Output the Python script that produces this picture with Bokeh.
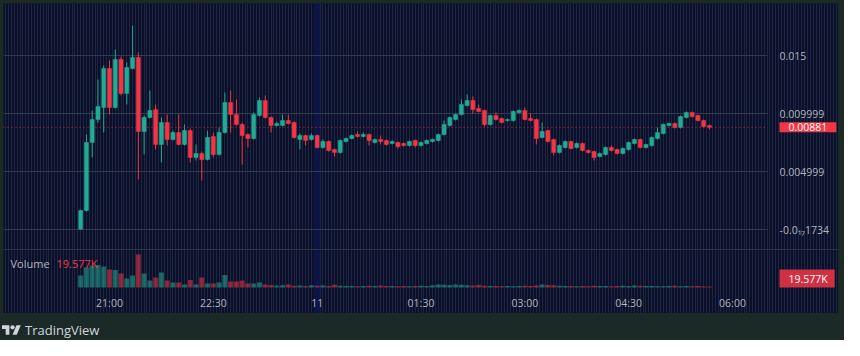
import pandas as pd
from bokeh.plotting import figure
from bokeh.models import (ColumnDataSource, Range1d, FixedTicker, SingleIntervalTicker,
                          Span, BoxAnnotation, Label, Div, Spacer, CustomJSTickFormatter)
from bokeh.layouts import row, column
from bokeh.embed import file_html
from bokeh.resources import INLINE

# ---------------- data (5-minute candles) ----------------
times = pd.date_range("2024-01-10 20:35", periods=110, freq="5min")
ref_time = pd.Timestamp("2024-01-10 21:00")

opens = [0.00003, 0.00164, 0.00750, 0.00948, 0.01052, 0.01388, 0.01052, 0.01465, 0.01172, 0.01388,
         0.01483, 0.00845, 0.00965, 0.01034, 0.00733, 0.00922, 0.00776, 0.00836, 0.00733, 0.00853,
         0.00621, 0.00655, 0.00603, 0.00802, 0.00647, 0.00836, 0.01095, 0.00991, 0.00905, 0.00819,
         0.00784, 0.00983, 0.01112, 0.00965, 0.00896, 0.00896, 0.00940, 0.00922, 0.00776, 0.00810,
         0.00776, 0.00810, 0.00707, 0.00759, 0.00690, 0.00664, 0.00759, 0.00784, 0.00819, 0.00802,
         0.00819, 0.00750, 0.00776, 0.00767, 0.00741, 0.00750, 0.00741, 0.00724, 0.00767, 0.00724,
         0.00741, 0.00759, 0.00767, 0.00819, 0.00896, 0.00948, 0.00991, 0.01069, 0.01112, 0.01043,
         0.01026, 0.00905, 0.00983, 0.00957, 0.00940, 0.00940, 0.01009, 0.01026, 0.00957, 0.00948,
         0.00793, 0.00853, 0.00776, 0.00664, 0.00707, 0.00759, 0.00707, 0.00741, 0.00681, 0.00672,
         0.00629, 0.00647, 0.00707, 0.00690, 0.00655, 0.00690, 0.00741, 0.00776, 0.00707, 0.00724,
         0.00784, 0.00828, 0.00896, 0.00914, 0.00879, 0.00965, 0.01009, 0.00983, 0.00940, 0.00896]

highs = [0.00172, 0.00819, 0.01026, 0.01293, 0.01414, 0.01457, 0.01552, 0.01491, 0.01440, 0.01758,
         0.01526, 0.00983, 0.01198, 0.01078, 0.00965, 0.00991, 0.00853, 0.00991, 0.00905, 0.00871,
         0.00733, 0.00672, 0.00853, 0.00836, 0.00879, 0.01181, 0.01198, 0.01121, 0.00922, 0.00828,
         0.01009, 0.01138, 0.01155, 0.00974, 0.00931, 0.00991, 0.00991, 0.00931, 0.00828, 0.00819,
         0.00828, 0.00819, 0.00776, 0.00767, 0.00698, 0.00776, 0.00793, 0.00819, 0.00845, 0.00836,
         0.00828, 0.00784, 0.00810, 0.00776, 0.00767, 0.00759, 0.00750, 0.00767, 0.00776, 0.00759,
         0.00776, 0.00784, 0.00828, 0.00940, 0.00974, 0.01000, 0.01121, 0.01164, 0.01147, 0.01078,
         0.01034, 0.00991, 0.01009, 0.00965, 0.00957, 0.01026, 0.01034, 0.01052, 0.01000, 0.00957,
         0.00922, 0.00862, 0.00784, 0.00733, 0.00767, 0.00767, 0.00750, 0.00750, 0.00690, 0.00681,
         0.00664, 0.00715, 0.00724, 0.00698, 0.00707, 0.00759, 0.00784, 0.00784, 0.00741, 0.00802,
         0.00879, 0.00914, 0.00922, 0.00922, 0.00983, 0.01017, 0.01017, 0.00991, 0.00948, 0.00905]

lows = [0.00000, 0.00155, 0.00621, 0.00922, 0.00836, 0.00991, 0.01043, 0.01155, 0.01078, 0.01379,
        0.00431, 0.00647, 0.00957, 0.00690, 0.00578, 0.00724, 0.00767, 0.00724, 0.00724, 0.00578,
        0.00595, 0.00422, 0.00595, 0.00621, 0.00638, 0.00828, 0.00836, 0.00896, 0.00560, 0.00707,
        0.00776, 0.00974, 0.00957, 0.00836, 0.00888, 0.00888, 0.00905, 0.00784, 0.00690, 0.00724,
        0.00767, 0.00698, 0.00698, 0.00672, 0.00629, 0.00655, 0.00750, 0.00776, 0.00793, 0.00793,
        0.00724, 0.00741, 0.00733, 0.00724, 0.00733, 0.00698, 0.00715, 0.00715, 0.00707, 0.00715,
        0.00733, 0.00750, 0.00759, 0.00810, 0.00888, 0.00940, 0.00983, 0.01060, 0.01000, 0.01009,
        0.00888, 0.00896, 0.00940, 0.00914, 0.00931, 0.00931, 0.01000, 0.00940, 0.00931, 0.00733,
        0.00784, 0.00750, 0.00638, 0.00655, 0.00698, 0.00690, 0.00698, 0.00672, 0.00655, 0.00595,
        0.00621, 0.00638, 0.00672, 0.00647, 0.00647, 0.00681, 0.00733, 0.00698, 0.00698, 0.00715,
        0.00776, 0.00819, 0.00888, 0.00871, 0.00871, 0.00957, 0.00965, 0.00931, 0.00879, 0.00862]

closes = [0.00164, 0.00750, 0.00948, 0.01060, 0.01388, 0.01052, 0.01465, 0.01172, 0.01396, 0.01483,
          0.00845, 0.00965, 0.01026, 0.00733, 0.00922, 0.00776, 0.00836, 0.00733, 0.00853, 0.00621,
          0.00655, 0.00603, 0.00793, 0.00647, 0.00836, 0.01095, 0.00991, 0.00905, 0.00810, 0.00784,
          0.00991, 0.01112, 0.00965, 0.00896, 0.00914, 0.00940, 0.00914, 0.00793, 0.00810, 0.00767,
          0.00810, 0.00707, 0.00759, 0.00681, 0.00664, 0.00767, 0.00784, 0.00810, 0.00802, 0.00819,
          0.00767, 0.00776, 0.00759, 0.00733, 0.00759, 0.00715, 0.00724, 0.00759, 0.00724, 0.00750,
          0.00767, 0.00776, 0.00819, 0.00905, 0.00965, 0.00991, 0.01078, 0.01112, 0.01034, 0.01017,
          0.00905, 0.00983, 0.00948, 0.00922, 0.00948, 0.01017, 0.01026, 0.00948, 0.00940, 0.00784,
          0.00845, 0.00759, 0.00664, 0.00724, 0.00759, 0.00698, 0.00741, 0.00681, 0.00664, 0.00621,
          0.00655, 0.00707, 0.00681, 0.00655, 0.00698, 0.00750, 0.00776, 0.00707, 0.00733, 0.00793,
          0.00836, 0.00905, 0.00914, 0.00879, 0.00974, 0.01009, 0.00974, 0.00940, 0.00888, 0.00881]

volumes_k = [240, 400, 440, 450, 420, 360, 350, 280, 180, 240,
             660, 280, 140, 200, 300, 140, 100, 100, 60, 150,
             60, 200, 80, 80, 100, 250, 120, 120, 140, 80,
             80, 100, 60, 50, 40, 45, 60, 35, 40, 30,
             45, 35, 40, 30, 55, 35, 30, 30, 25, 30,
             35, 30, 40, 30, 30, 25, 30, 25, 30, 35,
             30, 45, 60, 55, 50, 60, 55, 45, 40, 50,
             35, 30, 30, 25, 30, 25, 30, 35, 30, 40,
             60, 50, 45, 35, 30, 30, 25, 30, 25, 35,
             30, 30, 25, 30, 35, 30, 40, 35, 30, 30,
             25, 25, 30, 35, 25, 30, 25, 30, 22, 19.577]

time_ticks_min = [0, 90, 180, 270, 360, 450, 540]
time_tick_labels = ["21:00", "22:30", "11", "01:30", "03:00", "04:30", "06:00"]
price_ticks = [0.0, 0.005, 0.01, 0.015]
price_tick_labels = ["-0.0\u2081\u20871734", "0.004999", "0.009999", "0.015"]

# ---------------- styling ----------------
OUTER = "#1b2a26"
NAVY = "#0b0f29"
STRIPE = "#1d2641"
HGRID = "#323a4d"
UP = "#22ab94"
DOWN = "#f23645"
TXT = "#b2b5be"
FONT = "Open Sans"

# layout geometry (reference pixels; panel spans x 11..846, y 11..321)
PANEL_L, PANEL_T = 11, 11
FRAME_W, FRAME_H = 835, 310
PX_PER_MIN = 623 / 540          # 21:00 at x=117, 06:00 at x=740
X_START = (PANEL_L - 117) / PX_PER_MIN
PX_PER_PRICE = 11600            # 0 at y=237, 0.015 at y=63
Y_START = (237 - (PANEL_T + FRAME_H)) / PX_PER_PRICE
K_PER_PX = 20                   # volume baseline at y=295
V_START = (295 - (PANEL_T + FRAME_H)) * K_PER_PX

x_range = Range1d(X_START, X_START + FRAME_W / PX_PER_MIN)
y_range = Range1d(Y_START, Y_START + FRAME_H / PX_PER_PRICE)
vol_range = Range1d(V_START, V_START + FRAME_H * K_PER_PX)


def xd(px):
    return X_START + (px - PANEL_L) / PX_PER_MIN


def yvol(py):
    return V_START + (PANEL_T + FRAME_H - py) * K_PER_PX


def yprice(py):
    return Y_START + (PANEL_T + FRAME_H - py) / PX_PER_PRICE


PRICE_AXIS_X = xd(775)
TIME_AXIS_Y = yprice(297)

minutes = [(t - ref_time).total_seconds() / 60 for t in times]
colors = [UP if c >= o else DOWN for o, c in zip(opens, closes)]
src = ColumnDataSource(dict(
    x=minutes, open=opens, high=highs, low=lows, close=closes,
    top=[max(o, c) for o, c in zip(opens, closes)],
    bottom=[min(o, c) for o, c in zip(opens, closes)],
    vol=volumes_k, color=colors))

p = figure(width=FRAME_W, height=FRAME_H, x_range=x_range, y_range=y_range,
           output_backend="svg", toolbar_location=None,
           background_fill_color=NAVY, border_fill_color=NAVY,
           outline_line_color=None, y_axis_location="right",
           min_border_left=0, min_border_top=0, min_border_right=0, min_border_bottom=0)
p.extra_y_ranges = {"vol": vol_range}

# dense vertical stripes
p.xgrid.ticker = SingleIntervalTicker(interval=2.5, num_minor_ticks=0)
p.xgrid.grid_line_color = STRIPE
p.xgrid.grid_line_width = 1
p.ygrid.grid_line_color = None

# midnight session highlight
p.add_layout(BoxAnnotation(left=177.4, right=182.6, fill_color="#0c1448", fill_alpha=1,
                           line_color=None, level="underlay"))

# horizontal price levels (stop at the price scale)
p.segment(x0=[X_START] * len(price_ticks), x1=[PRICE_AXIS_X] * len(price_ticks),
          y0=price_ticks, y1=price_ticks, line_color=HGRID, line_width=1)
# pane separator
p.add_layout(Span(location=yprice(257), dimension="width", line_color="#2c3342", line_width=1))

# volume bars
p.vbar(x="x", width=4.3, top="vol", bottom=0, source=src, y_range_name="vol",
       fill_color="color", fill_alpha=0.55, line_color=None)

# candles
p.segment(x0="x", y0="low", x1="x", y1="high", source=src, line_color="color", line_width=1)
p.vbar(x="x", width=3.5, top="top", bottom="bottom", source=src,
       fill_color="color", line_color="color", line_width=0.5)

# last price line
p.segment(x0=[X_START], x1=[PRICE_AXIS_X], y0=[closes[-1]], y1=[closes[-1]],
          line_color=DOWN, line_alpha=0.8, line_width=1, line_dash="1 3")

# axes, placed inside the panel like TradingView's scales
pick = """
let best = 0, d = Infinity;
for (let i = 0; i < tvals.length; i++) { const e = Math.abs(tvals[i] - tick); if (e < d) { d = e; best = i; } }
return tlabels[best];
"""
yax = p.yaxis[0]
yax.ticker = FixedTicker(ticks=price_ticks)
yax.formatter = CustomJSTickFormatter(args=dict(tvals=price_ticks, tlabels=price_tick_labels), code=pick)
yax.fixed_location = PRICE_AXIS_X
xax = p.xaxis[0]
xax.ticker = FixedTicker(ticks=time_ticks_min)
xax.formatter = CustomJSTickFormatter(args=dict(tvals=time_ticks_min, tlabels=time_tick_labels), code=pick)
xax.fixed_location = TIME_AXIS_Y
for ax, standoff in ((yax, 12), (xax, 6)):
    ax.axis_line_color = None
    ax.major_tick_line_color = None
    ax.minor_tick_line_color = None
    ax.major_tick_out = 0
    ax.major_tick_in = 0
    ax.major_label_standoff = standoff
    ax.major_label_text_color = TXT
    ax.major_label_text_font = FONT
    ax.major_label_text_font_size = "10.5px"

# price & volume tags
p.add_layout(Label(x=xd(787), y=closes[-1], text=f"{closes[-1]:.5f}", text_baseline="middle",
                   text_color="white", text_font=FONT, text_font_size="10.5px",
                   background_fill_color=DOWN, padding=dict(left=9, right=9, top=1, bottom=1)))
p.add_layout(Label(x=xd(787), y=yvol(286), y_range_name="vol", text=f"{volumes_k[-1]:.3f}K",
                   text_baseline="middle", text_color="white", text_font=FONT, text_font_size="10.5px",
                   background_fill_color=DOWN, background_fill_alpha=0.85,
                   padding=dict(left=9, right=7, top=2, bottom=2)))
p.add_layout(Label(x=xd(18), y=yvol(271), y_range_name="vol", text="Volume", text_baseline="middle",
                   text_color=TXT, text_font=FONT, text_font_size="11px"))
p.add_layout(Label(x=xd(64), y=yvol(271), y_range_name="vol", text=f"{volumes_k[-1]:.3f}K",
                   text_baseline="middle", text_color=DOWN, text_font=FONT, text_font_size="11px"))

logo_svg = ('<svg width="19" height="15" viewBox="0 0 36 28" xmlns="http://www.w3.org/2000/svg">'
            '<path d="M14 22H7V11H0V4h14v18z" fill="#d1d4dc"/>'
            '<circle cx="20" cy="8" r="4" fill="#d1d4dc"/>'
            '<path d="M28 22h-8l7.5-18h8L28 22z" fill="#d1d4dc"/></svg>')
logo = Div(text=('<div style="display:flex;align-items:center;height:27px;margin-top:4px;margin-left:-1px;'
                 f'font-family:\'{FONT}\',sans-serif;font-size:13px;color:#d1d4dc;">'
                 f'{logo_svg}<span style="margin-left:4px;">TradingView</span></div>'),
           width=FRAME_W, height=27, margin=0, styles={"background-color": OUTER})

inner = column(Spacer(height=3, width=FRAME_W, styles={"background-color": OUTER}), p, logo,
               spacing=0, styles={"background-color": OUTER})
layout = row(Spacer(width=3, height=340, styles={"background-color": OUTER}), inner,
             Spacer(width=6, height=340, styles={"background-color": OUTER}),
             spacing=0, styles={"background-color": OUTER})

open("out.html", "w").write(file_html(layout, INLINE))
